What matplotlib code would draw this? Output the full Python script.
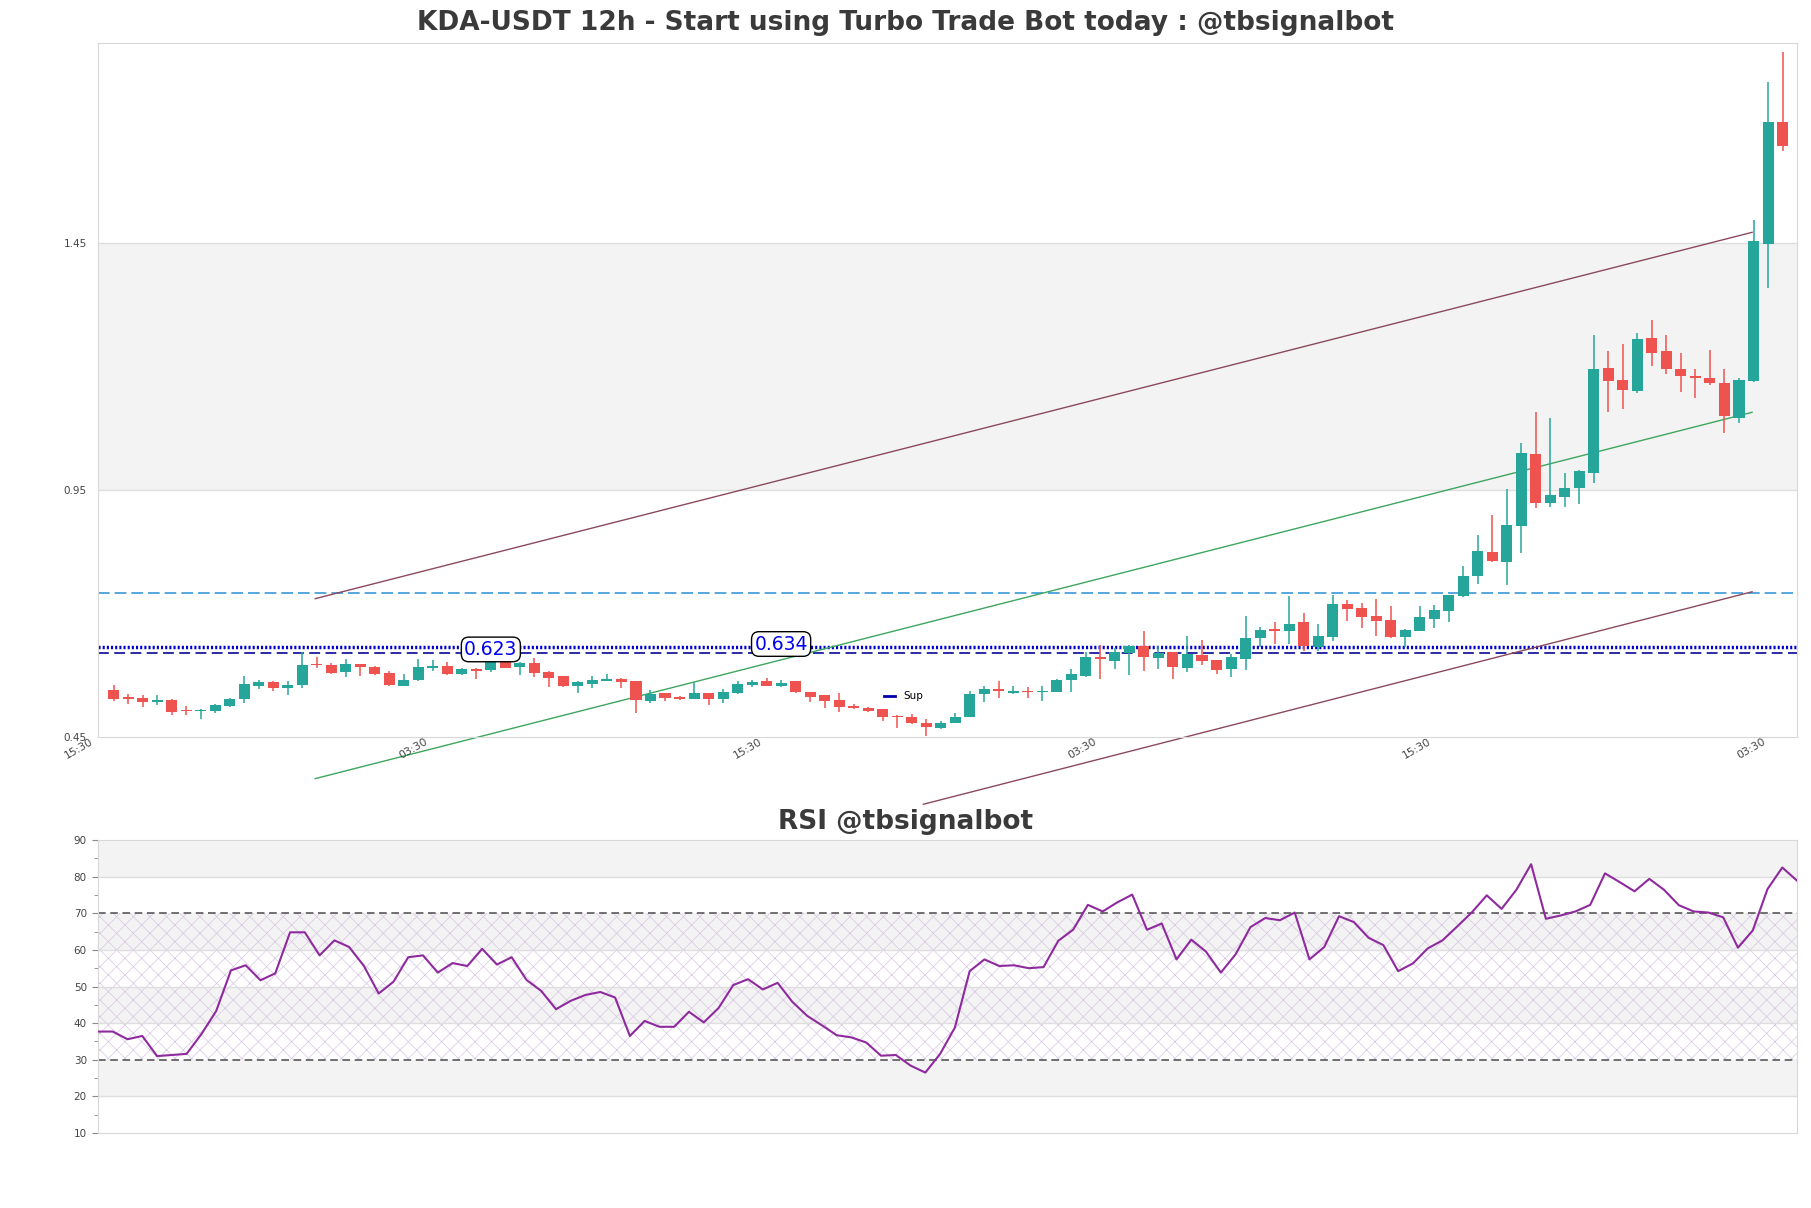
import matplotlib
matplotlib.use("Agg")
import matplotlib.pyplot as plt
import matplotlib.transforms as mtransforms
from matplotlib.lines import Line2D
from matplotlib.ticker import FormatStrFormatter, MultipleLocator
import numpy as np

# ---------------- data ----------------
opens = [0.547, 0.533, 0.531, 0.524, 0.527, 0.507, 0.505, 0.505, 0.516, 0.529,
         0.556, 0.564, 0.552, 0.557, 0.601, 0.598, 0.585, 0.600, 0.595, 0.583,
         0.556, 0.568, 0.593, 0.596, 0.580, 0.591, 0.588, 0.610, 0.595, 0.603,
         0.585, 0.576, 0.556, 0.560, 0.566, 0.571, 0.566, 0.526, 0.541, 0.534,
         0.530, 0.541, 0.530, 0.542, 0.557, 0.566, 0.556, 0.566, 0.543, 0.537,
         0.527, 0.515, 0.512, 0.509, 0.495, 0.492, 0.480, 0.471, 0.481, 0.493,
         0.539, 0.549, 0.541, 0.546, 0.543, 0.544, 0.569, 0.576, 0.614, 0.607,
         0.623, 0.637, 0.612, 0.624, 0.593, 0.618, 0.608, 0.591, 0.611, 0.654,
         0.671, 0.668, 0.685, 0.635, 0.655, 0.722, 0.715, 0.697, 0.689, 0.655,
         0.668, 0.692, 0.708, 0.738, 0.779, 0.827, 0.808, 0.881, 1.026, 0.928,
         0.940, 0.958, 0.988, 1.200, 1.176, 1.155, 1.261, 1.235, 1.198, 1.184,
         1.180, 1.171, 1.100, 1.175, 1.453, 1.700]
highs = [0.558, 0.539, 0.537, 0.537, 0.530, 0.516, 0.510, 0.519, 0.531, 0.576,
         0.569, 0.565, 0.566, 0.625, 0.614, 0.603, 0.610, 0.601, 0.596, 0.587,
         0.580, 0.610, 0.608, 0.605, 0.592, 0.593, 0.611, 0.612, 0.604, 0.612,
         0.586, 0.577, 0.565, 0.576, 0.581, 0.572, 0.567, 0.547, 0.542, 0.536,
         0.563, 0.542, 0.549, 0.566, 0.569, 0.572, 0.568, 0.567, 0.544, 0.538,
         0.541, 0.520, 0.513, 0.510, 0.497, 0.499, 0.489, 0.484, 0.502, 0.545,
         0.555, 0.566, 0.555, 0.554, 0.555, 0.570, 0.591, 0.625, 0.640, 0.633,
         0.640, 0.667, 0.637, 0.625, 0.657, 0.649, 0.609, 0.620, 0.697, 0.676,
         0.685, 0.738, 0.703, 0.681, 0.740, 0.730, 0.725, 0.732, 0.718, 0.672,
         0.718, 0.720, 0.741, 0.799, 0.862, 0.902, 0.956, 1.048, 1.111, 1.100,
         0.987, 0.994, 1.267, 1.235, 1.249, 1.271, 1.299, 1.267, 1.232, 1.198,
         1.237, 1.198, 1.180, 1.502, 1.781, 1.842]
lows = [0.526, 0.520, 0.514, 0.518, 0.497, 0.497, 0.488, 0.501, 0.514, 0.522,
        0.549, 0.546, 0.537, 0.552, 0.593, 0.581, 0.574, 0.576, 0.578, 0.556,
        0.555, 0.566, 0.587, 0.579, 0.578, 0.570, 0.585, 0.592, 0.578, 0.574,
        0.554, 0.554, 0.542, 0.552, 0.565, 0.552, 0.501, 0.522, 0.526, 0.528,
        0.529, 0.517, 0.522, 0.540, 0.553, 0.555, 0.554, 0.541, 0.524, 0.512,
        0.503, 0.510, 0.503, 0.485, 0.470, 0.478, 0.455, 0.468, 0.480, 0.492,
        0.524, 0.532, 0.539, 0.532, 0.525, 0.543, 0.544, 0.574, 0.570, 0.591,
        0.578, 0.587, 0.591, 0.570, 0.585, 0.598, 0.581, 0.574, 0.588, 0.635,
        0.642, 0.642, 0.627, 0.627, 0.647, 0.688, 0.674, 0.658, 0.654, 0.635,
        0.667, 0.674, 0.686, 0.737, 0.762, 0.808, 0.760, 0.825, 0.916, 0.919,
        0.919, 0.924, 0.968, 1.112, 1.117, 1.150, 1.205, 1.188, 1.152, 1.139,
        1.167, 1.070, 1.090, 1.173, 1.364, 1.641]
closes = [0.529, 0.530, 0.524, 0.528, 0.503, 0.505, 0.508, 0.517, 0.529, 0.560,
          0.564, 0.552, 0.557, 0.598, 0.598, 0.583, 0.600, 0.595, 0.580, 0.557,
          0.569, 0.594, 0.597, 0.580, 0.591, 0.587, 0.610, 0.593, 0.603, 0.583,
          0.572, 0.556, 0.564, 0.568, 0.570, 0.564, 0.527, 0.539, 0.532, 0.530,
          0.541, 0.530, 0.543, 0.560, 0.564, 0.556, 0.561, 0.544, 0.534, 0.526,
          0.514, 0.512, 0.505, 0.492, 0.492, 0.480, 0.472, 0.480, 0.493, 0.539,
          0.549, 0.545, 0.546, 0.543, 0.546, 0.568, 0.581, 0.614, 0.610, 0.625,
          0.637, 0.614, 0.623, 0.595, 0.620, 0.607, 0.589, 0.614, 0.654, 0.670,
          0.668, 0.682, 0.638, 0.657, 0.722, 0.712, 0.696, 0.688, 0.655, 0.669,
          0.695, 0.711, 0.740, 0.779, 0.829, 0.809, 0.882, 1.029, 0.928, 0.943,
          0.958, 0.992, 1.199, 1.175, 1.157, 1.259, 1.232, 1.198, 1.185, 1.181,
          1.171, 1.104, 1.176, 1.458, 1.700, 1.652]

rsi = [37.7, 37.7, 35.6, 36.5, 31.0, 31.3, 31.6, 37.0, 43.3, 54.4,
       55.8, 51.7, 53.6, 64.8, 64.8, 58.5, 62.6, 60.8, 55.6, 48.1,
       51.3, 58.0, 58.5, 53.8, 56.4, 55.6, 60.3, 56.0, 58.0, 51.8,
       48.8, 43.8, 46.1, 47.7, 48.5, 47.0, 36.5, 40.6, 39.0, 39.0,
       43.1, 40.2, 44.1, 50.4, 52.0, 49.2, 51.0, 45.8, 42.0, 39.4,
       36.7, 36.1, 34.7, 31.1, 31.3, 28.4, 26.5, 31.6, 38.8, 54.2,
       57.4, 55.6, 55.8, 55.0, 55.3, 62.5, 65.5, 72.3, 70.5, 73.0,
       75.1, 65.5, 67.2, 57.4, 62.8, 59.5, 53.8, 58.8, 66.2, 68.7,
       68.1, 70.2, 57.4, 60.8, 69.2, 67.6, 63.3, 61.3, 54.2, 56.3,
       60.4, 62.6, 66.4, 70.3, 74.9, 71.2, 76.4, 83.4, 68.5, 69.4,
       70.5, 72.3, 80.9, 78.5, 76.0, 79.4, 76.4, 72.2, 70.5, 70.2,
       68.9, 60.6, 65.3, 76.6, 82.5, 78.9]

xtick_positions = [-2.42, 20.63, 43.68, 66.73, 89.78, 112.83]
xtick_labels = ["15:30", "03:30", "15:30", "03:30", "15:30", "03:30"]
price_ticks = [0.4534, 0.9534, 1.4534]
rsi_ticks = [10, 20, 30, 40, 50, 60, 70, 80, 90]

support_levels = [0.634, 0.623]
support_label_x = [46, 26]
resistance_level = 0.745
upper_line_x, upper_line_y = [13.9, 112.9], [0.733, 1.476]
mid_line_x, mid_line_y = [13.9, 112.9], [0.368, 1.111]
lower_line_x, lower_line_y = [55.8, 112.9], [0.316, 0.747]

title = "KDA-USDT 12h - Start using Turbo Trade Bot today : @tbsignalbot"
rsi_title = "RSI @tbsignalbot"

# ---------------- styling ----------------
UP = "#26a69a"
DOWN = "#ef5350"
BAND = "#f3f3f3"
GRID = "#dedede"
SPINE = "#d8d8d8"
TXT = "#444444"

plt.rcParams["hatch.linewidth"] = 0.5
fig = plt.figure(figsize=(18.11, 12.08), dpi=100)
ax = fig.add_axes([0.0541, 0.3903, 0.9382, 0.5741])
ax2 = fig.add_axes([0.0541, 0.0621, 0.9382, 0.2425])

n = len(opens)
x = np.arange(n)
o = np.array(opens); h = np.array(highs); l = np.array(lows); c = np.array(closes)
up = c >= o
cols = np.where(up, UP, DOWN)

ax.set_xlim(-1.07, n)
ax.set_ylim(price_ticks[0], 1.860)

# bands / grid
ax.axhspan(price_ticks[1], price_ticks[2], color=BAND, zorder=0, lw=0)
for t in price_ticks[1:]:
    ax.axhline(t, color=GRID, lw=1, zorder=0.5)

# candles
ax.vlines(x, l, h, colors=cols, lw=1.1, zorder=3)
body_bottom = np.minimum(o, c)
body_h = np.maximum(np.abs(c - o), 0.0025)
ax.bar(x, body_h, bottom=body_bottom, width=0.76, color=cols, lw=0, zorder=4)

# horizontal levels
ax.axhline(resistance_level, color="#3a98d8", lw=1.2, ls=(0, (7, 3)), zorder=2)
ax.axhline(support_levels[0], color="#0000cc", lw=2.5, ls=(0, (0.6, 0.6)), zorder=2)
ax.axhline(support_levels[1], color="#1a1a9e", lw=1.3, ls=(0, (6, 3)), zorder=2)
for lvl, lx in zip(support_levels, support_label_x):
    ax.annotate(f"{lvl:.3f}", xy=(lx, lvl), xytext=(0, 2.5), textcoords="offset points",
                ha="center", va="center", fontsize=13.5, color="#0000ee", zorder=6,
                bbox=dict(boxstyle="round,pad=0.15,rounding_size=0.4", fc="white", ec="black", lw=1))

# channel lines
ax.plot(upper_line_x, upper_line_y, color="#8b4a5c", lw=1.0, clip_on=False, zorder=2.5)
ax.plot(mid_line_x, mid_line_y, color="#3ea65e", lw=1.0, clip_on=False, zorder=2.5)
ax.plot(lower_line_x, lower_line_y, color="#8b4a5c", lw=1.0, clip_on=False, zorder=2.5)

# legend
ax.legend(handles=[Line2D([], [], color="#0000aa", lw=2)], labels=["Sup"],
          loc="center", bbox_to_anchor=(0.474, 0.058), frameon=False, fontsize=7.5,
          handlelength=1.1, handletextpad=0.8)

# axes cosmetics
for s in ax.spines.values():
    s.set_color(SPINE)
ax.set_yticks(price_ticks)
ax.yaxis.set_major_formatter(FormatStrFormatter("%.2f"))
ax.tick_params(axis="y", length=0, pad=8, labelsize=7.5, labelcolor=TXT)
ax.set_xticks([])
trans = mtransforms.blended_transform_factory(ax.transData, ax.transAxes)
for pos, lab in zip(xtick_positions, xtick_labels):
    ax.annotate(lab, xy=(pos, 0), xycoords=trans, xytext=(0, -9), textcoords="offset points",
                ha="center", va="center", rotation=30, fontsize=7.8, color=TXT,
                annotation_clip=False)

fig.text(0.5, 0.9806, title, ha="center", va="center", fontsize=19,
         fontweight="bold", color="#3a3a3a")

# ---------------- RSI panel ----------------
xr = np.arange(len(rsi))
ax2.set_xlim(0, len(rsi) - 1)
ax2.set_ylim(rsi_ticks[0], rsi_ticks[-1])
for lo in (20, 40, 60, 80):
    ax2.axhspan(lo, lo + 10, color=BAND, lw=0, zorder=0)
ax2.axhspan(30, 70, facecolor="none", edgecolor="#d6c6e2", hatch="xx", lw=0, zorder=0.5)
for t in (20, 40, 50, 60, 80):
    ax2.axhline(t, color=GRID, lw=1, zorder=1)
for t in (30, 70):
    ax2.axhline(t, color="#4a4a4a", lw=1.1, ls=(0, (5, 3)), zorder=2)
ax2.plot(xr, rsi, color="#8e2a9e", lw=1.5, zorder=3)
for s in ax2.spines.values():
    s.set_color(SPINE)
ax2.set_xticks([])
ax2.set_yticks(rsi_ticks)
ax2.yaxis.set_minor_locator(MultipleLocator(5))
ax2.tick_params(axis="y", which="major", length=4, color="#888888", pad=4,
                labelsize=7.5, labelcolor=TXT)
ax2.tick_params(axis="y", which="minor", length=3, color="#888888")

fig.text(0.5, 0.3193, rsi_title, ha="center", va="center", fontsize=19,
         fontweight="bold", color="#3a3a3a")

fig.savefig("out.png", dpi=100, facecolor="white")
